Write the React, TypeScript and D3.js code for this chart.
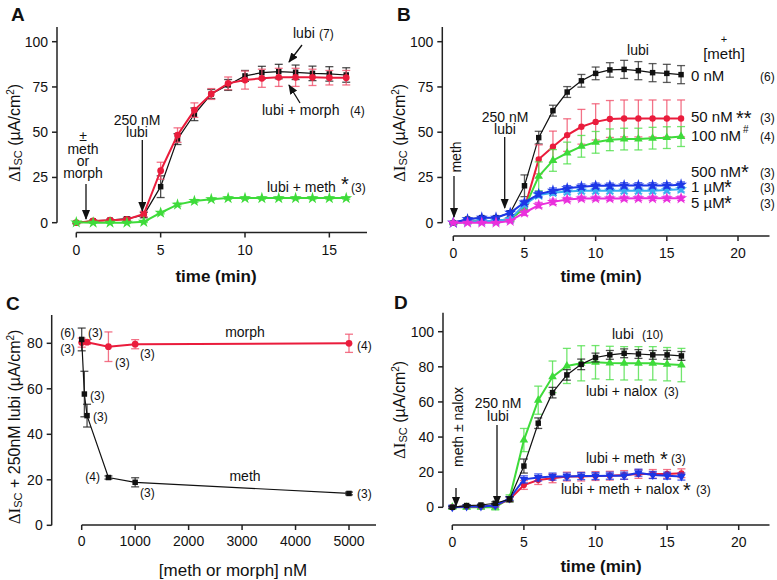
import React from 'react';
import * as d3 from 'd3';

// ---------- DATA ----------
const minutes = [0, 1, 2, 3, 4, 5, 6, 7, 8, 9, 10, 11, 12, 13, 14, 15, 16];

// Panel A
const aLubi = [0, 1, 1.4, 2.2, 4.2, 19.9, 46.2, 59.9, 71.1, 76.1, 81.1, 82.9, 83.5, 83.1, 82.5, 82.2, 81.6];
const aLubiErr = [0.5, 0.5, 0.5, 0.8, 1.5, 6, 3, 3.5, 2.5, 3, 3, 3.5, 4, 4, 4, 4, 4];
const aMorph = [0, 1, 1.4, 1.8, 4.8, 28.7, 48.4, 62.2, 71.1, 77, 78.8, 79.8, 80.3, 80.3, 80.3, 80.1, 80.1];
const aMorphErr = [0.5, 0.5, 0.5, 0.8, 1.5, 4.7, 4, 4, 3, 3.5, 5, 5, 5, 5, 4.5, 4, 4];
const aMeth = [0.2, 0, 0, 0, 0.5, 5.5, 10, 12, 13, 13.6, 13.6, 13.6, 13.6, 13.6, 13.6, 13.6, 13.6];
const aMethErr = [0.3, 0.3, 0.3, 0.3, 0.4, 0.6, 0.8, 0.8, 0.6, 0.6, 0.6, 0.6, 0.6, 0.6, 0.6, 0.6, 0.6];

// Panel B
const b0nM = [0, 2, 2.8, 2.8, 5.5, 20.4, 47, 61.9, 72.2, 78.4, 82.5, 84.4, 84.7, 84, 82.9, 82.5, 81.8];
const b0nMErr = [0.5, 0.5, 0.5, 0.5, 1, 6, 3.5, 3, 3, 3.5, 3.5, 4, 5, 5, 5, 5, 5];
const b50nM = [0, 0.5, 1, 1, 2, 8, 35, 42, 48.4, 53, 55.7, 57.3, 57.6, 57.6, 57.6, 57.6, 57.6];
const b50nMErr = [0.5, 0.5, 0.5, 0.5, 1, 2, 8, 8.6, 9, 9.6, 10, 10.2, 10.2, 10.2, 10.2, 10.2, 10.2];
const b100nM = [0, 0.5, 1, 1, 2, 8, 25.6, 34.4, 38.5, 42.2, 44.4, 45.8, 46.2, 46.2, 46.7, 47, 47.6];
const b100nMErr = [0.5, 0.5, 0.5, 0.5, 1, 2, 8, 6, 6, 6, 6, 6, 6, 6, 6, 6, 5.5];
const b500nM = [0, 1.9, 2.8, 2.8, 5.5, 11.2, 15.8, 17.7, 19, 19.9, 20.4, 20.4, 20.6, 20.6, 20.6, 20.6, 21];
const b500nMErr = [0.5, 0.8, 0.8, 0.8, 1, 1.2, 1.5, 1.5, 1.5, 1.5, 1.5, 1.5, 1.5, 1.5, 1.5, 1.5, 1.5];
const b1uM = [0, 0.5, 1, 1, 2, 10, 15.3, 16.6, 17.2, 17.7, 17.7, 17.7, 17.7, 17.7, 17.7, 18, 18.5];
const b1uMErr = [0.5, 0.5, 0.5, 0.5, 0.8, 1.2, 1.5, 1.5, 1.5, 1.5, 1.5, 1.5, 1.5, 1.5, 1.5, 1.5, 1.5];
const b5uM = [0, 0, 0, 0, 1, 5.5, 9.7, 11.5, 12.8, 13.4, 13.4, 13.4, 13.4, 13.5, 13.5, 13.5, 13.5];
const b5uMErr = [0.5, 0.5, 0.5, 0.5, 0.8, 1.5, 1.5, 1.5, 1.2, 1.2, 1.2, 1.2, 1.2, 1.2, 1.2, 1.2, 1.2];

// Panel C
const cMethConc = [0, 50, 100, 500, 1000, 5000];
const cMeth = [81.7, 57.7, 48.2, 21, 18.9, 14];
const cMethErr = [5, 10, 5, 0.7, 2, 0.6];
const cMorphConc = [0, 100, 500, 1000, 5000];
const cMorph = [80.3, 80.5, 78.5, 79.6, 80];
const cMorphErr = [2, 1, 6.5, 2, 4];

// Panel D
const dLubi = [0, 1, 1.3, 2.3, 4.6, 23.5, 47.9, 65.3, 75.4, 81.4, 85.3, 86.8, 87.7, 87.3, 86.8, 86.8, 86.2];
const dLubiErr = [0.5, 0.5, 0.5, 0.8, 1.5, 4, 3, 3, 3, 3, 2.5, 2.5, 2.5, 2.5, 2.5, 2.5, 2.5];
const dNalox = [0, 0, 0, 0, 5.1, 38.3, 61, 74.3, 80.5, 82, 82.6, 82.2, 82, 82, 82, 81.5, 81];
const dNaloxErr = [0.8, 0.8, 0.8, 1.5, 2, 6.6, 8, 9, 10, 10, 9.5, 9.5, 9.5, 9.5, 9.5, 9.5, 9.5];
const dMeth = [0, 0.5, 0.5, 1, 4.5, 12.7, 15.5, 16.5, 17.5, 17.5, 17.8, 18, 18.4, 19, 19, 19, 19.4];
const dMethErr = [0.5, 0.5, 0.5, 0.8, 1, 2.5, 2.5, 2.5, 2.5, 2.5, 2.5, 2.5, 2.5, 2.5, 2.5, 2.5, 2.5];
const dMethNalox = [0, 0.5, 0.5, 1, 5, 15.9, 17, 17.5, 17.5, 17.8, 17.8, 18, 18, 19.7, 18.4, 18, 17.5];
const dMethNaloxErr = [0.5, 0.5, 0.5, 0.8, 1, 2, 2, 2, 2, 2, 2, 2, 2, 2, 2, 2, 2];

// Ticks
const yTicks25 = [0, 25, 50, 75, 100];
const yTicks20 = [0, 20, 40, 60, 80];
const yTicksD = [0, 20, 40, 60, 80, 100];
const xTicksA = [0, 5, 10, 15];
const xTicksB = [0, 5, 10, 15, 20];
const xTicksC = [0, 1000, 2000, 3000, 4000, 5000];

// ---------- STYLE ----------
const SANS = '"Liberation Sans", Arial, Helvetica, sans-serif';
const SERIF = '"Liberation Serif", "Times New Roman", serif';
const C_BLACK = '#111111';
const C_RED = '#ea1c3c';
const C_GREEN = '#3edb3a';
const C_BLUE = '#1c36e6';
const C_LBLUE = '#39aef0';
const C_MAG = '#ea2fdc';

type Scale = d3.ScaleLinear<number, number>;

function YAxis({ y, x0, ticks, top }: { y: Scale; x0: number; ticks: number[]; top: number }) {
  return (
    <g>
      <line x1={x0} x2={x0} y1={top} y2={y(0)} stroke="#222" strokeWidth={1.5} />
      {ticks.map((t) => (
        <g key={t}>
          <line x1={x0 - 5} x2={x0} y1={y(t)} y2={y(t)} stroke="#222" strokeWidth={1.5} />
          <text x={x0 - 9} y={y(t) + 5} textAnchor="end" fontSize={14} fontFamily={SANS} fill="#111">
            {t}
          </text>
        </g>
      ))}
    </g>
  );
}

function XAxis({ x, y0, ticks, right, labelDy }: { x: Scale; y0: number; ticks: number[]; right: number; labelDy: number }) {
  return (
    <g>
      <line x1={x(0)} x2={right} y1={y0} y2={y0} stroke="#222" strokeWidth={1.5} />
      {ticks.map((t) => (
        <g key={t}>
          <line x1={x(t)} x2={x(t)} y1={y0} y2={y0 + 5} stroke="#222" strokeWidth={1.5} />
          <text x={x(t)} y={y0 + labelDy} textAnchor="middle" fontSize={14} fontFamily={SANS} fill="#111">
            {t}
          </text>
        </g>
      ))}
    </g>
  );
}

function Series({
  xs, ys, errs, x, y, color, errColor, lw, symbol, size, rotate = 0,
}: {
  xs: number[]; ys: number[]; errs: number[]; x: Scale; y: Scale; color: string; errColor: string;
  lw: number; symbol: d3.SymbolType; size: number; rotate?: number;
}) {
  const pts = xs.map((v, i) => [x(v), y(ys[i])] as [number, number]);
  const line = d3.line()(pts) || '';
  const sym = d3.symbol().type(symbol).size(size)() || '';
  return (
    <g>
      {xs.map((v, i) => {
        const px = x(v);
        const yt = y(ys[i] + errs[i]);
        const yb = y(ys[i] - errs[i]);
        return (
          <g key={i} stroke={errColor} strokeWidth={1.3} strokeOpacity={0.8}>
            <line x1={px} x2={px} y1={yt} y2={yb} />
            <line x1={px - 4} x2={px + 4} y1={yt} y2={yt} />
            <line x1={px - 4} x2={px + 4} y1={yb} y2={yb} />
          </g>
        );
      })}
      <path d={line} fill="none" stroke={color} strokeWidth={lw} />
      {pts.map((p, i) => (
        <path key={i} d={sym} transform={`translate(${p[0]},${p[1]}) rotate(${rotate})`} fill={color} />
      ))}
    </g>
  );
}

function YTitle({ cx, cy, middle }: { cx: number; cy: number; middle: string }) {
  return (
    <text
      transform={`translate(${cx},${cy}) rotate(-90)`}
      textAnchor="middle"
      fontSize={16}
      fontFamily={SANS}
      fill="#111"
    >
      <tspan fontFamily={SERIF} fontSize={17}>ΔI</tspan>
      <tspan fontSize={11} dy={2}>SC</tspan>
      <tspan dy={-2}>{middle}(µA/cm</tspan>
      <tspan fontSize={10} dy={-6}>2</tspan>
      <tspan dy={6}>)</tspan>
    </text>
  );
}

function Arrow({ x1, y1, x2, y2 }: { x1: number; y1: number; x2: number; y2: number }) {
  return <line x1={x1} y1={y1} x2={x2} y2={y2} stroke="#111" strokeWidth={1.3} markerEnd="url(#ah)" />;
}

function T({ x, y, children, size = 14, anchor = 'start', weight = 'normal' }: any) {
  return (
    <text x={x} y={y} fontSize={size} fontFamily={SANS} textAnchor={anchor} fontWeight={weight} fill="#111">
      {children}
    </text>
  );
}

function N({ x, y, children, anchor = 'start' }: any) {
  return (
    <text x={x} y={y} fontSize={12} fontFamily={SANS} textAnchor={anchor} fill="#111">
      {children}
    </text>
  );
}

export default function App() {
  // Scales
  const xA = d3.scaleLinear().domain([0, 16]).range([76.3, 76.3 + 16 * 16.87]);
  const yA = d3.scaleLinear().domain([0, 100]).range([222.7, 41.7]);
  const xB = d3.scaleLinear().domain([0, 20]).range([453.3, 738]);
  const yB = d3.scaleLinear().domain([0, 100]).range([222.7, 41.7]);
  const xC = d3.scaleLinear().domain([0, 5000]).range([81.7, 349]);
  const yC = d3.scaleLinear().domain([0, 80]).range([525.3, 343.3]);
  const xD = d3.scaleLinear().domain([0, 20]).range([452.3, 738.7]);
  const yD = d3.scaleLinear().domain([0, 100]).range([507.3, 331.7]);

  const sq = d3.symbolSquare;
  const ci = d3.symbolCircle;
  const st = d3.symbolStar;
  const tr = d3.symbolTriangle;

  const LX = 691; // panel B label column
  const NX = 760; // panel B n column

  return (
    <svg width={777} height={580} style={{ display: 'block', position: 'absolute', left: 0, top: 0, background: '#fff' }}>
      <defs>
        <marker id="ah" markerUnits="userSpaceOnUse" markerWidth={10} markerHeight={10} refX={9} refY={4} orient="auto">
          <path d="M0,0 L10,4 L0,8 Z" fill="#111" />
        </marker>
      </defs>
      <rect x={0} y={0} width={777} height={580} fill="#fff" />

      {/* Panel letters */}
      <T x={11} y={21} size={19} weight="bold">A</T>
      <T x={397} y={21} size={19} weight="bold">B</T>
      <T x={6} y={310} size={19} weight="bold">C</T>
      <T x={394} y={309} size={19} weight="bold">D</T>

      {/* ---------- Panel A ---------- */}
      <YAxis y={yA} x0={57} ticks={yTicks25} top={27} />
      <XAxis x={xA} y0={232.5} ticks={xTicksA} right={367} labelDy={22} />
      <YTitle cx={20} cy={133} middle=" " />
      <T x={216} y={282} size={17} weight="bold" anchor="middle">time (min)</T>
      <Series xs={minutes} ys={aLubi} errs={aLubiErr} x={xA} y={yA} color={C_BLACK} errColor="#222" lw={1.2} symbol={sq} size={30} />
      <Series xs={minutes} ys={aMorph} errs={aMorphErr} x={xA} y={yA} color={C_RED} errColor="#f0506a" lw={2} symbol={ci} size={36} />
      <Series xs={minutes} ys={aMeth} errs={aMethErr} x={xA} y={yA} color={C_GREEN} errColor={C_GREEN} lw={2} symbol={st} size={45} />
      <T x={83} y={141} anchor="middle">±</T>
      <T x={83} y={154} anchor="middle">meth</T>
      <T x={83} y={166} anchor="middle">or</T>
      <T x={83} y={178} anchor="middle">morph</T>
      <Arrow x1={86} y1={184} x2={86} y2={219} />
      <T x={137} y={125} anchor="middle">250 nM</T>
      <T x={137} y={137} anchor="middle">lubi</T>
      <Arrow x1={142.3} y1={140} x2={142.3} y2={211} />
      <T x={293} y={38}>lubi</T>
      <N x={319} y={38}>(7)</N>
      <Arrow x1={302} y1={45} x2={289} y2={62} />
      <T x={262} y={115}>lubi + morph</T>
      <N x={350} y={115}>(4)</N>
      <Arrow x1={300} y1={103} x2={289} y2={85} />
      <T x={267} y={192}>lubi + meth</T>
      <T x={341} y={191} size={20}>*</T>
      <N x={351} y={192}>(3)</N>

      {/* ---------- Panel B ---------- */}
      <YAxis y={yB} x0={442.3} ticks={yTicks25} top={27} />
      <XAxis x={xB} y0={236} ticks={xTicksB} right={769.5} labelDy={22} />
      <YTitle cx={405} cy={133} middle=" " />
      <T x={601} y={282} size={17} weight="bold" anchor="middle">time (min)</T>
      <Series xs={minutes} ys={b0nM} errs={b0nMErr} x={xB} y={yB} color={C_BLACK} errColor="#333" lw={1.2} symbol={sq} size={30} />
      <Series xs={minutes} ys={b50nM} errs={b50nMErr} x={xB} y={yB} color={C_RED} errColor="#f0506a" lw={2} symbol={ci} size={32} />
      <Series xs={minutes} ys={b100nM} errs={b100nMErr} x={xB} y={yB} color={C_GREEN} errColor="#4fe04a" lw={2} symbol={tr} size={32} />
      <Series xs={minutes} ys={b1uM} errs={b1uMErr} x={xB} y={yB} color={C_LBLUE} errColor={C_LBLUE} lw={2} symbol={st} size={45} />
      <Series xs={minutes} ys={b500nM} errs={b500nMErr} x={xB} y={yB} color={C_BLUE} errColor={C_BLUE} lw={2} symbol={st} size={45} />
      <Series xs={minutes} ys={b5uM} errs={b5uMErr} x={xB} y={yB} color={C_MAG} errColor={C_MAG} lw={2} symbol={st} size={45} />
      <text transform="translate(461,157) rotate(-90)" textAnchor="middle" fontSize={14} fontFamily={SANS} fill="#111">meth</text>
      <Arrow x1={454} y1={176} x2={454} y2={217} />
      <T x={505} y={122} anchor="middle">250 nM</T>
      <T x={505} y={134} anchor="middle">lubi</T>
      <Arrow x1={504.7} y1={137} x2={504.7} y2={208} />
      <T x={638} y={55} anchor="middle">lubi</T>
      <T x={724} y={43} anchor="middle" size={11}>+</T>
      <T x={724} y={59} anchor="middle" size={15}>[meth]</T>
      <T x={LX} y={81} size={15}>0 nM</T>
      <N x={NX} y={81}>(6)</N>
      <T x={LX} y={122} size={15}>50 nM</T>
      <T x={736} y={125} size={20}>**</T>
      <N x={NX} y={122}>(3)</N>
      <T x={LX} y={141} size={15}>100 nM</T>
      <T x={743} y={133} size={10}>#</T>
      <N x={NX} y={141}>(4)</N>
      <T x={LX} y={177} size={15}>500 nM</T>
      <T x={741} y={179} size={20}>*</T>
      <N x={NX} y={177}>(3)</N>
      <T x={LX} y={192} size={15}>1 µM</T>
      <T x={724} y={194} size={20}>*</T>
      <N x={NX} y={192}>(3)</N>
      <T x={LX} y={208} size={15}>5 µM</T>
      <T x={724} y={210} size={20}>*</T>
      <N x={NX} y={208}>(3)</N>

      {/* ---------- Panel C ---------- */}
      <YAxis y={yC} x0={51.7} ticks={yTicks20} top={315} />
      <XAxis x={xC} y0={525} ticks={xTicksC} right={376} labelDy={21} />
      <YTitle cx={20} cy={427} middle=" + 250nM lubi " />
      <T x={233} y={576} size={17} anchor="middle">[meth or morph] nM</T>
      <Series xs={cMorphConc} ys={cMorph} errs={cMorphErr} x={xC} y={yC} color={C_RED} errColor="#f0506a" lw={2} symbol={ci} size={36} />
      <Series xs={cMethConc} ys={cMeth} errs={cMethErr} x={xC} y={yC} color={C_BLACK} errColor="#222" lw={1.2} symbol={sq} size={30} />
      <N x={75} y={337} anchor="end">(6)</N>
      <N x={88} y={337}>(3)</N>
      <N x={75} y={353} anchor="end">(3)</N>
      <T x={245} y={337} anchor="middle">morph</T>
      <N x={357} y={350}>(4)</N>
      <N x={115} y={367}>(3)</N>
      <N x={140} y={358}>(3)</N>
      <N x={90} y={400}>(3)</N>
      <N x={93} y={421}>(3)</N>
      <N x={100} y={481} anchor="end">(4)</N>
      <T x={245} y={481} anchor="middle">meth</T>
      <N x={140} y={497}>(3)</N>
      <N x={357} y={498}>(3)</N>

      {/* ---------- Panel D ---------- */}
      <YAxis y={yD} x0={443} ticks={yTicksD} top={312.7} />
      <XAxis x={xD} y0={525} ticks={xTicksB} right={769.5} labelDy={22} />
      <YTitle cx={405} cy={410} middle=" " />
      <T x={601} y={572} size={17} weight="bold" anchor="middle">time (min)</T>
      <Series xs={minutes} ys={dNalox} errs={dNaloxErr} x={xD} y={yD} color={C_GREEN} errColor="#4fe04a" lw={2} symbol={tr} size={32} />
      <Series xs={minutes} ys={dMeth} errs={dMethErr} x={xD} y={yD} color={C_RED} errColor="#f0506a" lw={2} symbol={ci} size={30} />
      <Series xs={minutes} ys={dMethNalox} errs={dMethNaloxErr} x={xD} y={yD} color={C_BLUE} errColor={C_BLUE} lw={2} symbol={tr} size={32} rotate={180} />
      <Series xs={minutes} ys={dLubi} errs={dLubiErr} x={xD} y={yD} color={C_BLACK} errColor="#222" lw={1.2} symbol={sq} size={30} />
      <text transform="translate(463,427) rotate(-90)" textAnchor="middle" fontSize={14} fontFamily={SANS} fill="#111">meth ± nalox</text>
      <Arrow x1={456} y1={488} x2={456} y2={506} />
      <T x={498} y={408} anchor="middle">250 nM</T>
      <T x={498} y={421} anchor="middle">lubi</T>
      <Arrow x1={497} y1={425} x2={497} y2={505} />
      <T x={612} y={339}>lubi</T>
      <N x={642} y={339}>(10)</N>
      <T x={586} y={396}>lubi + nalox</T>
      <N x={664} y={396}>(3)</N>
      <T x={586} y={463}>lubi + meth</T>
      <T x={660} y={466} size={20}>*</T>
      <N x={671} y={463}>(3)</N>
      <T x={561} y={494}>lubi + meth + nalox</T>
      <T x={683} y={497} size={20}>*</T>
      <N x={696} y={494}>(3)</N>
    </svg>
  );
}
